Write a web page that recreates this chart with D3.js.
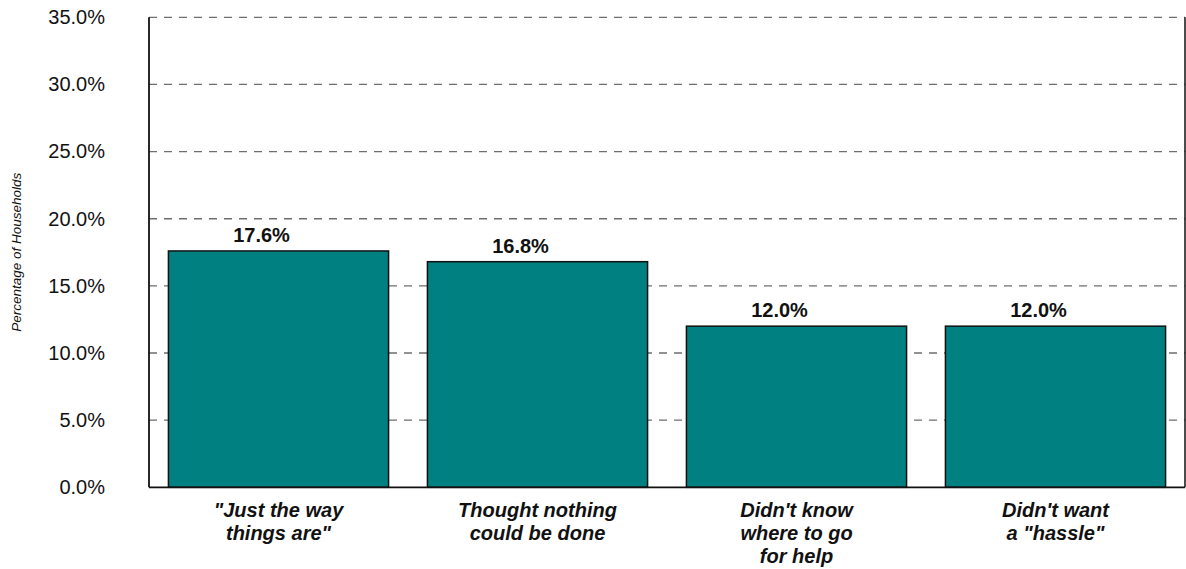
<!DOCTYPE html>
<html>
<head>
<meta charset="utf-8">
<script src="https://cdn.jsdelivr.net/npm/d3@7"></script>
<style>
  html, body { margin: 0; padding: 0; background: #ffffff; }
  svg { display: block; font-family: "Liberation Sans", Arial, sans-serif; }
</style>
</head>
<body>
<svg id="chart" width="1186" height="569"></svg>
<script>
// Reasons households gave for not seeking help
const categories = [
  ["\"Just the way", "things are\""],
  ["Thought nothing", "could be done"],
  ["Didn't know", "where to go", "for help"],
  ["Didn't want", "a \"hassle\""]
];
const values = [17.6, 16.8, 12.0, 12.0];
const yTicks = [0, 5, 10, 15, 20, 25, 30, 35];
const yTitle = "Percentage of Households";

const svg = d3.select("#chart");
const margin = { left: 149, right: 1185, top: 17.3, bottom: 487.3 };

const x = d3.scaleBand()
  .domain(d3.range(values.length))
  .range([margin.left, margin.right])
  .paddingInner(0.15)
  .paddingOuter(0.075);

const y = d3.scaleLinear()
  .domain([0, 35])
  .range([margin.bottom, margin.top]);

// dashed gridlines
svg.append("g")
  .selectAll("line")
  .data(yTicks.filter(d => d > 0))
  .join("line")
  .attr("x1", margin.left)
  .attr("x2", margin.right)
  .attr("y1", d => y(d))
  .attr("y2", d => y(d))
  .attr("stroke", "#6e6e6e")
  .attr("stroke-width", 1.3)
  .attr("stroke-dasharray", "8,7");

// bars
svg.append("g")
  .selectAll("rect")
  .data(values)
  .join("rect")
  .attr("x", (d, i) => x(i))
  .attr("y", d => y(d))
  .attr("width", x.bandwidth())
  .attr("height", d => y(0) - y(d))
  .attr("fill", "#008080")
  .attr("stroke", "#111")
  .attr("stroke-width", 1.5);

// value labels, set slightly left of each bar's centre
svg.append("g")
  .selectAll("text")
  .data(values)
  .join("text")
  .attr("x", (d, i) => x(i) + x.bandwidth() / 2 - 17)
  .attr("y", d => y(d) - 9)
  .attr("text-anchor", "middle")
  .attr("font-size", 20)
  .attr("font-weight", "bold")
  .attr("fill", "#111")
  .text(d => d.toFixed(1) + "%");

// y axis
const yAxis = d3.axisLeft(y)
  .tickValues(yTicks)
  .tickSize(0)
  .tickPadding(44)
  .tickFormat(d => d.toFixed(1) + "%");

const gy = svg.append("g")
  .attr("transform", `translate(${margin.left},0)`)
  .call(yAxis);
gy.select(".domain").remove();
gy.selectAll("text")
  .attr("font-family", "\"Liberation Sans\", Arial, sans-serif")
  .attr("font-size", 20)
  .attr("fill", "#111");

// plot frame: left, bottom and right edges
svg.append("line")
  .attr("x1", margin.left).attr("x2", margin.left)
  .attr("y1", margin.top).attr("y2", margin.bottom)
  .attr("stroke", "#111").attr("stroke-width", 1.8);
svg.append("line")
  .attr("x1", margin.left).attr("x2", margin.right)
  .attr("y1", margin.bottom).attr("y2", margin.bottom)
  .attr("stroke", "#111").attr("stroke-width", 1.8);
svg.append("line")
  .attr("x1", margin.right).attr("x2", margin.right)
  .attr("y1", margin.top).attr("y2", margin.bottom)
  .attr("stroke", "#111").attr("stroke-width", 1.5);

// category labels
const cat = svg.append("g")
  .selectAll("text")
  .data(categories)
  .join("text")
  .attr("x", (d, i) => x(i) + x.bandwidth() / 2)
  .attr("y", 517)
  .attr("text-anchor", "middle")
  .attr("font-size", 20)
  .attr("font-weight", "bold")
  .attr("font-style", "italic")
  .attr("fill", "#111");
cat.selectAll("tspan")
  .data(d => d)
  .join("tspan")
  .attr("x", function () { return this.parentNode.getAttribute("x"); })
  .attr("dy", (d, i) => i === 0 ? 0 : 23)
  .text(d => d);

// y axis title
svg.append("text")
  .attr("transform", `translate(21,${(margin.top + margin.bottom) / 2}) rotate(-90)`)
  .attr("text-anchor", "middle")
  .attr("font-size", 13.5)
  .attr("font-style", "italic")
  .attr("fill", "#111")
  .text(yTitle);
</script>
</body>
</html>
